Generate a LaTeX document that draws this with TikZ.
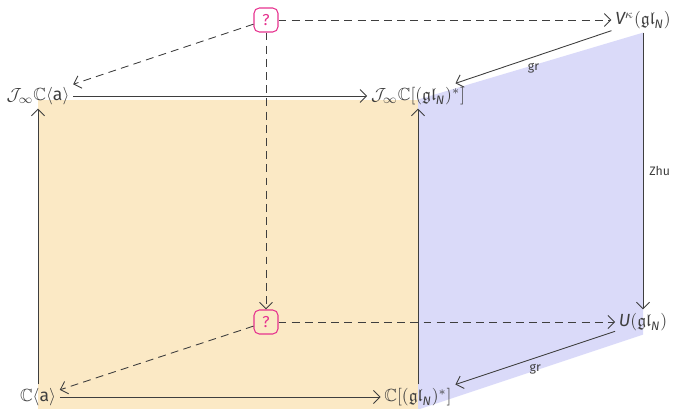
\documentclass[tikz,border=0pt]{standalone}
\usepackage{fontspec}
\setmainfont{Fira Sans}
\usepackage{amsmath,amssymb}
\usetikzlibrary{arrows.meta,backgrounds}
\definecolor{inkgray}{HTML}{3E3E3E}
\definecolor{peach}{HTML}{FBE9C5}
\definecolor{lilac}{HTML}{DADAF9}
\definecolor{qpink}{HTML}{E6338F}
\tikzset{
  obj/.style={text=inkgray, font=\normalsize, inner sep=2pt},
  qbox/.style={draw=qpink, text=qpink, rounded corners=3pt, minimum size=0.48cm, inner sep=0pt, font=\small, line width=0.6pt},
  arr/.style={-{Straight Barb[length=1.3mm, width=2.6mm]}, draw=inkgray, line width=0.5pt},
  darr/.style={arr, dash pattern=on 4.5pt off 3pt},
  lbl/.style={font=\scriptsize, text=inkgray},
}

\begin{document}
\begin{tikzpicture}
\useasboundingbox (0,0) rectangle (13.52,8.16);

\node[obj] (JCa) at (0.76,6.24) {$\mathcal{J}_\infty\mathbb{C}\langle \mathrm{a}\rangle$};
\node[obj] (JCg) at (8.36,6.24) {$\mathcal{J}_\infty\mathbb{C}[(\mathfrak{gl}_{\mathit{N}})^*]$};
\node[obj] (V) at (12.86,7.76) {$\mathit{V}^{\kappa}(\mathfrak{gl}_{\mathit{N}})$};
\node[qbox] (qtop) at (5.32,7.76) {?};
\node[qbox] (qbot) at (5.32,1.72) {?};
\node[obj] (U) at (12.86,1.72) {$\mathit{U}(\mathfrak{gl}_{\mathit{N}})$};
\node[obj] (Ca) at (0.76,0.22) {$\mathbb{C}\langle \mathrm{a}\rangle$};
\node[obj] (Cg) at (8.36,0.22) {$\mathbb{C}[(\mathfrak{gl}_{\mathit{N}})^*]$};

% shaded faces
\begin{scope}[on background layer]
  \fill[peach] ([yshift=-2pt]JCa.center) rectangle (Cg.south);
  \fill[lilac] ([yshift=-2pt]JCg.center) -- (V.south) -- (U.south) -- (Cg.south) -- cycle;
\end{scope}

% solid maps
\draw[arr] (JCa) -- (JCg);
\draw[arr] (Ca) -- (JCa);
\draw[arr] (Cg) -- (JCg);
\draw[arr] (Ca) -- (Cg);
\draw[arr] (V) -- node[lbl, below]{gr} (JCg);
\draw[arr] (U) -- node[lbl, below]{gr} (Cg);
\draw[arr] (V) -- node[lbl, right]{Zhu} (U);

% dashed maps
\draw[darr] (qtop) -- (V);
\draw[darr] (qtop) -- (JCa);
\draw[darr] (qtop) -- (qbot);
\draw[darr] (qbot) -- (U);
\draw[darr] (qbot) -- (Ca);

\end{tikzpicture}
\end{document}
